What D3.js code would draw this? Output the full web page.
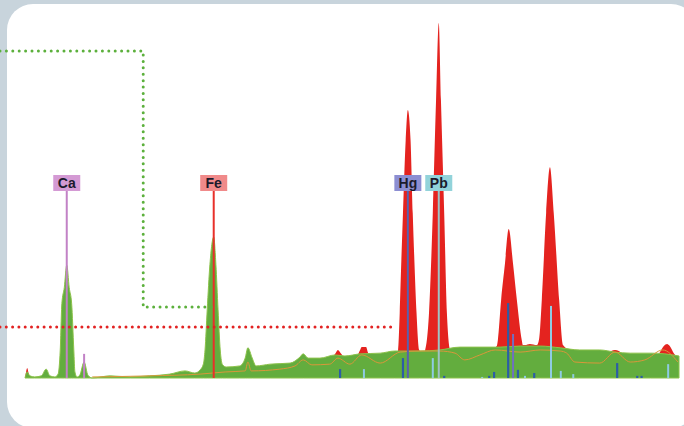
<!DOCTYPE html>
<html>
<head>
  <meta charset="utf-8">
  <title>XRF spectrum</title>
  <script src="https://d3js.org/d3.v7.min.js"></script>
  <style>
    body { margin: 0; background: #c8d4dc; }
    svg { display: block; }
  </style>
</head>
<body>

  <svg width="684" height="426"></svg>

  <script>

    // Sample spectrum (green), energy in keV and counts
    const sampleEnergy = [2.92, 2.96, 3.01, 3.10, 3.22, 3.31, 3.38, 3.47, 3.53, 3.57, 3.60, 3.645, 3.69, 3.735, 3.78, 3.82,
      3.84, 3.88, 3.93, 4.01, 4.08, 4.16, 4.49, 4.86, 5.22, 5.59, 5.87, 6.05, 6.15, 6.21, 6.24, 6.28, 6.33, 6.40, 6.44,
      6.48, 6.52, 6.56, 6.63, 6.88, 6.98, 7.03, 7.11, 7.18, 7.44, 7.81, 7.99, 8.05, 8.14, 8.36, 8.64, 8.82, 9.10, 9.47,
      9.74, 10.20, 10.57, 10.94, 11.31, 11.68, 12.05, 12.42, 12.79, 13.15, 13.52, 13.80, 14.08, 14.45, 14.72, 14.98];
    const sampleCounts = [0, 1.7, 0.6, 0.3, 0.6, 2.5, 0.6, 0.3, 1.1, 7.9, 21.0, 25.5, 31.8, 25.5, 21.0, 7.9,
      1.7, 0.3, 0.8, 4.5, 0.8, 0, 0.6, 0.3, 0.6, 1.1, 2.0, 1.4, 2.3, 4.0, 7.9, 19.2, 32.0, 39.7, 32.0,
      19.2, 7.9, 3.8, 3.1, 3.4, 5.6, 8.5, 5.6, 3.4, 3.9, 4.2, 5.9, 6.8, 5.6, 5.6, 6.5, 6.2, 6.8, 7.0,
      7.6, 7.6, 7.9, 8.7, 8.7, 8.7, 9.0, 9.0, 8.5, 7.9, 7.9, 7.3, 7.0, 7.0, 6.8, 6.2];

    // Reference spectrum (red)
    const refEnergy = [2.92, 2.94, 2.96, 2.99, 3.03, 6.60,
      8.54, 8.64, 8.69, 8.75, 8.84, 9.02, 9.10, 9.13, 9.21, 9.24, 9.32,
      9.69, 9.78, 9.80, 9.83, 9.86, 9.89, 9.94, 9.98, 10.03, 10.07, 10.10, 10.14, 10.19, 10.25,
      10.30, 10.37, 10.44, 10.50, 10.55, 10.59, 10.65, 10.70, 10.76, 10.85,
      11.49, 11.62, 11.64, 11.70, 11.77, 11.84, 11.92, 11.99, 12.08, 12.10, 12.14, 12.23,
      12.36, 12.40, 12.45, 12.53, 12.60, 12.67, 12.77, 12.84, 12.97,
      13.61, 13.73, 13.80, 13.87, 13.98, 14.54, 14.63, 14.70, 14.76, 14.81, 14.89, 14.98];
    const refCounts = [0, 1.7, 2.8, 1.1, 0, 0,
      5.1, 6.8, 7.9, 6.8, 5.1, 5.6, 7.9, 8.7, 8.7, 7.3, 5.6,
      6.2, 7.0, 7.9, 18.3, 33.2, 46.5, 67.0, 75.5, 67.0, 46.5, 33.2, 18.3, 7.9, 6.8,
      7.9, 18.3, 46.5, 78.3, 100, 78.3, 46.5, 18.3, 7.9, 7.3,
      7.9, 9.0, 10.7, 22.0, 32.1, 42.0, 32.1, 22.0, 10.7, 9.3, 9.3, 9.6,
      9.3, 11.0, 22.0, 46.5, 59.4, 46.5, 22.0, 9.3, 7.9,
      6.2, 7.6, 7.9, 7.6, 6.2, 5.1, 7.3, 9.0, 9.6, 9.0, 6.8, 5.6];

    // Fitted background (thin orange line)
    const fitEnergy = [4.16, 5.22, 6.15, 6.61, 6.98, 7.03, 7.09, 7.62, 7.90, 8.05, 8.21, 8.54, 8.69, 8.91, 9.13,
      9.47, 9.84, 10.20, 10.57, 10.85, 11.03, 11.31, 11.59, 12.05, 12.42, 12.79, 12.91, 13.06, 13.52, 13.80,
      14.08, 14.35, 14.68, 14.96];
    const fitCounts = [0.3, 0.6, 1.1, 1.7, 2.0, 4.5, 2.0, 2.5, 3.4, 5.1, 3.7, 3.9, 5.6, 3.9, 6.5,
      4.2, 7.3, 7.6, 7.6, 7.0, 5.1, 6.5, 7.9, 7.3, 7.9, 7.6, 7.0, 4.5, 4.2, 7.3,
      4.5, 5.1, 7.9, 4.5];

    // Emission line markers
    const hgLineEnergy = [8.73, 9.89, 10.65, 11.48, 11.57, 11.83, 12.01, 12.31, 13.84, 14.21, 14.29];
    const hgLineCounts = [2.5, 5.6, 0.6, 0.6, 1.7, 21.1, 2.3, 1.4, 4.2, 0.6, 0.6];
    const pbLineEnergy = [9.17, 10.44, 11.35, 12.14, 12.62, 12.80, 13.03, 14.78];
    const pbLineCounts = [2.5, 5.6, 0.3, 0.6, 20.3, 2.0, 1.1, 3.9];
    const caLineEnergy = [4.01];
    const caLineCounts = [6.8];
    const hgBetaEnergy = [11.92];
    const hgBetaCounts = [12.4];

    // Labelled elements
    const elements = ["Ca", "Fe", "Hg", "Pb"];
    const elementEnergy = [3.69, 6.40, 9.98, 10.55];

    // Guide lines (dotted)
    const greenGuideEnergy = [5.10, 5.10, 6.40];
    const greenGuideCounts = [92.1, 20.0, 20.0];
    const redGuideEnergy = 9.69;
    const redGuideCount = 14.4;

    const width = 684;
    const height = 426;

    const svg = d3.select("svg")
      .attr("width", width)
      .attr("height", height);

    // White rounded panel
    svg.append("rect")
      .attr("x", 7).attr("y", 4)
      .attr("width", 690).attr("height", 424)
      .attr("rx", 26).attr("ry", 26)
      .attr("fill", "#ffffff");

    const x = d3.scaleLinear().domain([2.92, 14.98]).range([25, 679]);
    const y = d3.scaleLinear().domain([0, 100]).range([378, 23]);

    const zip = (es, cs) => es.map((e, i) => ({ e: e, c: cs[i] }));

    const area = d3.area()
      .x(d => x(d.e))
      .y0(y(0))
      .y1(d => y(d.c))
      .curve(d3.curveMonotoneX);

    const line = d3.line()
      .x(d => x(d.e))
      .y(d => y(d.c))
      .curve(d3.curveMonotoneX);

    // Red reference spectrum behind the sample
    svg.append("path")
      .datum(zip(refEnergy, refCounts))
      .attr("d", area)
      .attr("fill", "#e4231f");

    // Green sample spectrum
    svg.append("path")
      .datum(zip(sampleEnergy, sampleCounts))
      .attr("d", area)
      .attr("fill", "#63ad3e")
      .attr("stroke", "#8cc24a")
      .attr("stroke-width", 1);

    // Orange background fit
    svg.append("path")
      .datum(zip(fitEnergy, fitCounts))
      .attr("d", line)
      .attr("fill", "none")
      .attr("stroke", "#d9973a")
      .attr("stroke-width", 1);

    // Short marker lines
    const markers = (es, cs, color, w) => {
      svg.append("g").selectAll("line")
        .data(zip(es, cs))
        .enter().append("line")
          .attr("x1", d => x(d.e)).attr("x2", d => x(d.e))
          .attr("y1", y(0)).attr("y2", d => y(d.c))
          .attr("stroke", color)
          .attr("stroke-width", w);
    };
    markers(hgLineEnergy, hgLineCounts, "#2c5da6", 2.2);
    markers(pbLineEnergy, pbLineCounts, "#8fcbe3", 2);
    markers(caLineEnergy, caLineCounts, "#c282c6", 2);
    markers(hgBetaEnergy, hgBetaCounts, "#6f70c0", 2);

    // Element label lines and boxes
    const labelColor = { Ca: "#d49ad4", Fe: "#f08a8a", Hg: "#8c8ed2", Pb: "#92d3da" };
    const stemColor = { Ca: "#c282c6", Fe: "#e8302a", Hg: "#5860ae", Pb: "#9fc2c4" };
    const labelTop = 175;
    const labelH = 16;

    const labels = svg.append("g").selectAll("g")
      .data(elements.map((el, i) => ({ el: el, e: elementEnergy[i] })))
      .enter().append("g");

    labels.append("line")
      .attr("x1", d => x(d.e)).attr("x2", d => x(d.e))
      .attr("y1", labelTop + labelH).attr("y2", y(0))
      .attr("stroke", d => stemColor[d.el])
      .attr("stroke-width", 2);

    labels.append("rect")
      .attr("x", d => x(d.e) - 13.5)
      .attr("y", labelTop)
      .attr("width", 27)
      .attr("height", labelH)
      .attr("fill", d => labelColor[d.el]);

    labels.append("text")
      .attr("x", d => x(d.e))
      .attr("y", labelTop + 13)
      .attr("text-anchor", "middle")
      .attr("font-family", "Liberation Sans, Arial, sans-serif")
      .attr("font-size", 14)
      .attr("font-weight", "bold")
      .attr("fill", "#1b1b2c")
      .text(d => d.el);

    // Dotted guides
    const greenGuide = [[0, y(greenGuideCounts[0])]]
      .concat(greenGuideEnergy.map((e, i) => [x(e), y(greenGuideCounts[i])]));
    svg.append("path")
      .attr("d", d3.line()(greenGuide))
      .attr("fill", "none")
      .attr("stroke", "#5cb03c")
      .attr("stroke-width", 3)
      .attr("stroke-linecap", "round")
      .attr("stroke-dasharray", "0 6.4");

    svg.append("line")
      .attr("x1", 0).attr("x2", x(redGuideEnergy))
      .attr("y1", y(redGuideCount)).attr("y2", y(redGuideCount))
      .attr("stroke", "#e22222")
      .attr("stroke-width", 3)
      .attr("stroke-linecap", "round")
      .attr("stroke-dasharray", "0 6.3");

  </script>

</body>
</html>
